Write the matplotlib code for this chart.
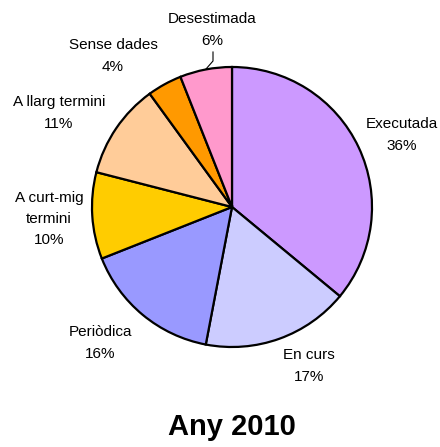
import matplotlib
matplotlib.use("Agg")
import matplotlib.pyplot as plt

plt.rcParams['font.family'] = ['Liberation Sans', 'DejaVu Sans']

etiquetes = ["Executada", "En curs", "Periòdica", "A curt-mig\ntermini",
             "A llarg termini", "Sense dades", "Desestimada"]
valors = [36, 17, 16, 10, 11, 4, 6]
colors = ["#cc99ff", "#ccccff", "#9999ff", "#ffcc00", "#ffcc99", "#ff9900", "#ff99cc"]
titol = "Any 2010"

# posicio de cada etiqueta (pixels, origen a dalt a l'esquerra)
pos_etiq = [(402, 135), (309, 366), (100, 343), (49, 219),
            (59, 113), (113, 56), (212, 30)]

W, H = 440, 447
fig = plt.figure(figsize=(W / 100, H / 100), dpi=100)
ax = fig.add_axes([0, 0, 1, 1])

cx, cy, r = 232, H - 207, 140
ax.pie(valors, colors=colors, startangle=90, counterclock=False,
       center=(cx, cy), radius=r, frame=True,
       wedgeprops=dict(edgecolor='black', linewidth=1.6))
ax.set_xlim(0, W)
ax.set_ylim(0, H)
ax.set_aspect('equal')
ax.axis('off')

for nom, v, (x, y) in zip(etiquetes, valors, pos_etiq):
    ax.text(x, H - y, nom + "\n" + str(v) + "%", ha='center', va='center',
            fontsize=11, linespacing=1.68)

# linia guia de Desestimada
ax.plot([213, 213, 206], [H - 52, H - 61, H - 69], color='black', lw=0.8)

ax.text(232, H - 427, titol, ha='center', va='center', fontsize=21, fontweight='bold')

fig.savefig("out.png", dpi=100)
